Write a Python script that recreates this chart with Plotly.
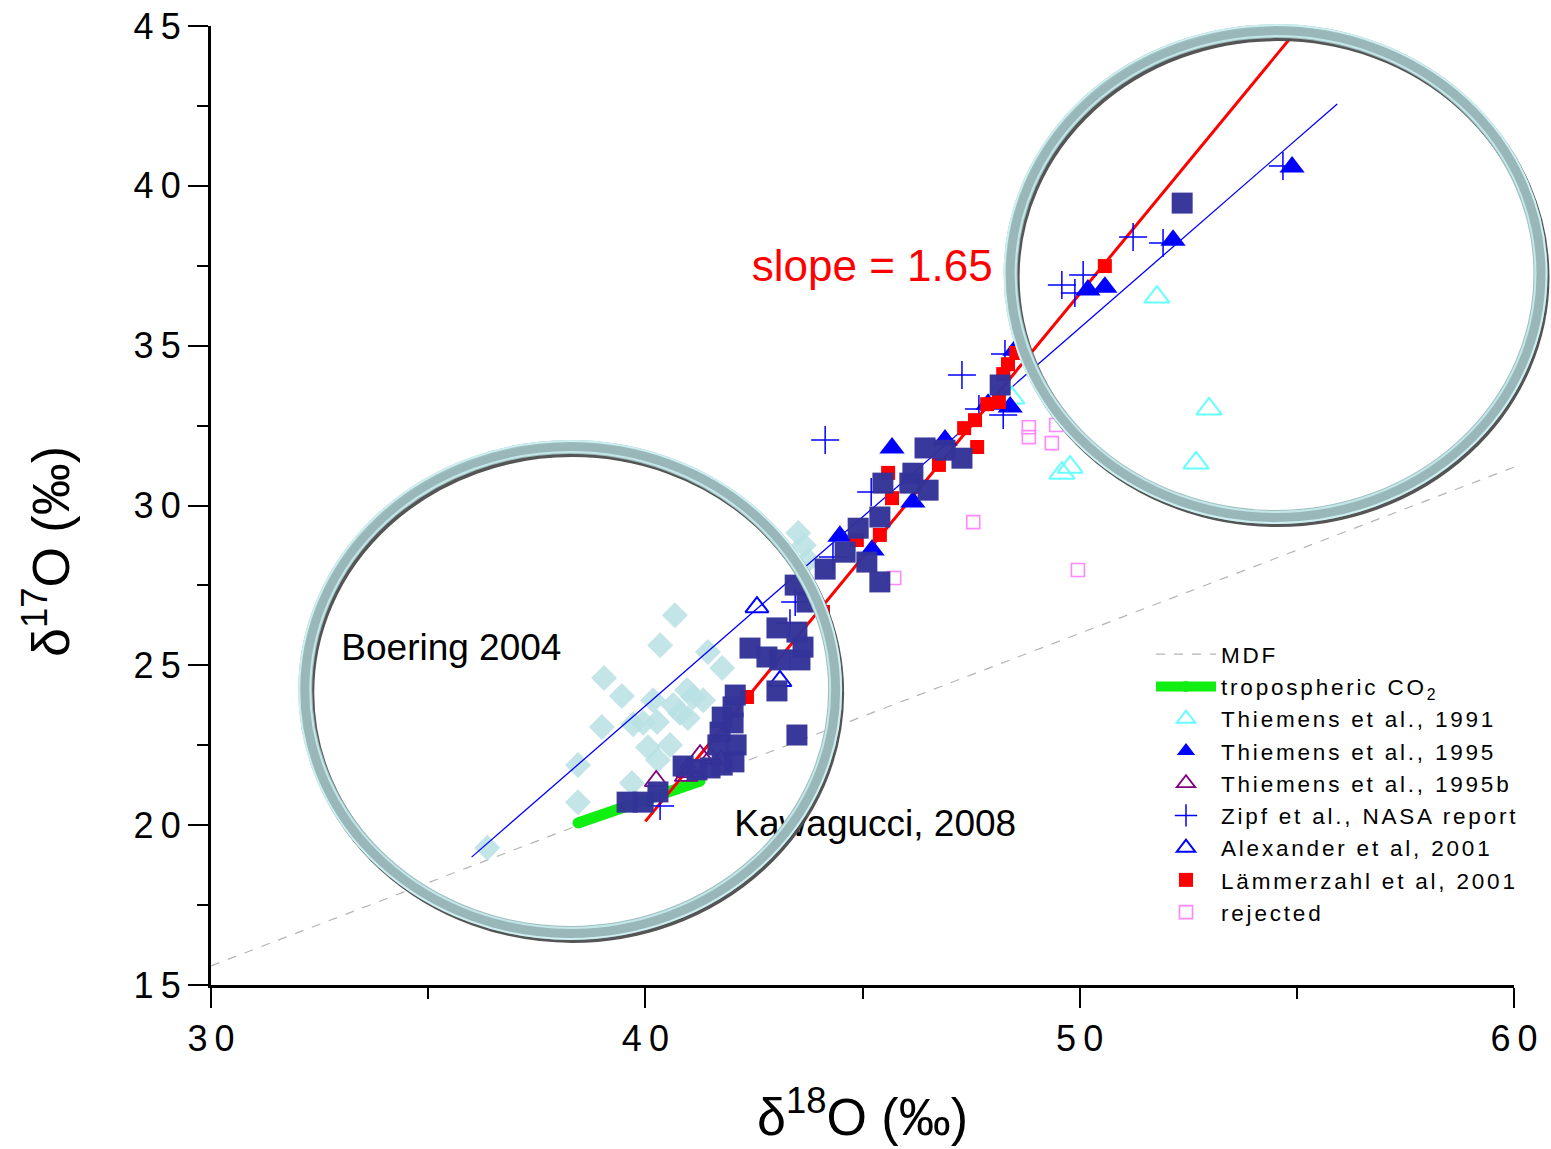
import plotly.graph_objects as go

# ---- axis ranges ----
X_RANGE = [30, 60]
Y_RANGE = [15, 45]
X_TICKS = [30, 40, 50, 60]
X_MINOR = [35, 45, 55]
Y_TICKS = [15, 20, 25, 30, 35, 40, 45]
Y_MINOR = [17.5, 22.5, 27.5, 32.5, 37.5, 42.5]

# ---- reference lines ----
MDF_SLOPE = 0.52
mdf_d18 = [30, 60]
FIT_SLOPE = 1.65
fit_d18 = [40.0, 55.1]
fit_intercept = -45.88
blue_fit_d18 = [36.0, 55.93]
blue_fit_d17 = [19.0, 42.56]
co2_d18 = [38.45, 41.26]
co2_d17 = [20.07, 21.38]

# ---- Boering 2004 ----
boering_d18 = [36.36, 38.45, 38.45, 39.00, 39.05, 39.46, 39.72, 39.95, 40.27, 40.18,
               40.34, 40.68, 40.96, 41.10, 41.33, 40.64, 40.80, 40.98, 41.44, 41.77,
               40.06, 40.57, 40.29, 39.69, 43.52, 43.65, 43.75]
boering_d17 = [19.29, 20.72, 21.88, 23.07, 24.60, 24.04, 23.16, 23.20, 23.23, 23.91,
               25.63, 26.57, 24.23, 24.01, 23.91, 23.76, 23.51, 23.35, 25.42, 24.92,
               22.44, 22.51, 22.04, 21.32, 29.14, 28.76, 28.29]

# ---- Kawagucci 2008 ----
kawagucci_d18 = [39.58, 39.95, 40.29, 40.87, 41.19, 41.49, 41.77, 42.04, 41.67, 42.09,
                 41.72, 42.02, 41.77, 42.02, 42.07, 43.03, 43.49, 42.41, 42.80, 43.10,
                 43.56, 43.03, 43.49, 43.63, 43.45, 44.14, 43.72, 44.60, 45.10, 45.40,
                 44.90, 45.40, 45.47, 46.09, 46.16, 46.51, 46.44, 46.90, 47.29, 48.17,
                 52.36]
kawagucci_d17 = [20.72, 20.72, 21.04, 21.85, 21.73, 21.79, 21.88, 21.98, 22.51, 22.51,
                 22.91, 23.20, 23.38, 23.70, 24.07, 24.20, 22.82, 25.54, 25.26, 25.17,
                 25.17, 26.17, 26.04, 25.57, 27.51, 28.01, 26.98, 28.54, 28.23, 27.61,
                 29.29, 29.64, 30.70, 30.70, 31.01, 30.48, 31.80, 31.73, 31.48, 33.77,
                 39.46]

# ---- Thiemens et al., 1991 ----
th1991_d18 = [51.78, 52.98, 52.68, 49.78, 49.59, 48.44]
th1991_d17 = [36.52, 33.02, 31.33, 31.20, 31.01, 33.36]

# ---- Thiemens et al., 1995 ----
th1995_d18 = [54.89, 52.15, 50.58, 50.19, 48.51, 48.40, 47.89, 46.90, 45.68, 46.16, 44.48, 45.22]
th1995_d17 = [40.59, 38.30, 36.83, 36.74, 34.86, 33.08, 33.17, 32.05, 31.80, 30.11, 29.04, 28.61]

# ---- Thiemens et al., 1995b ----
th1995b_d18 = [40.25, 41.26, 41.51, 41.74, 40.98, 40.98, 40.94]
th1995b_d17 = [21.38, 22.19, 22.10, 22.04, 21.79, 21.66, 21.54]

# ---- Zipf et al., NASA report ----
zipf_d18 = [54.68, 51.92, 51.23, 50.08, 49.59, 49.89, 48.28, 47.29, 44.14, 45.20,
            47.68, 48.24, 44.32, 43.45, 43.33, 40.34]
zipf_d17 = [40.62, 38.21, 38.40, 37.21, 36.90, 36.65, 34.74, 34.08, 32.05, 30.42,
            33.02, 32.83, 28.39, 26.98, 26.32, 20.60]

# ---- Alexander et al, 2001 ----
alex_d18 = [42.57, 43.10]
alex_d17 = [26.82, 24.51]

# ---- Lämmerzahl et al, 2001 ----
lamm_d18 = [50.58, 48.54, 48.35, 48.24, 48.14, 47.87, 47.59, 47.34, 47.64, 46.76,
            45.59, 45.68, 45.40, 44.87, 44.09, 42.34]
lamm_d17 = [37.49, 34.77, 34.42, 34.11, 33.24, 33.17, 32.67, 32.42, 31.83, 31.27,
            31.02, 30.23, 29.08, 28.92, 26.67, 24.01]

# ---- rejected ----
rej_d18 = [48.83, 48.83, 49.46, 49.36, 47.55, 45.73, 49.96]
rej_d17 = [32.45, 32.14, 32.52, 31.95, 29.48, 27.73, 27.98]

# ---- highlight rings (centre and radii in data units) ----
ring_centres = [(38.27, 24.23), (54.51, 37.24)]
RING_RX = 6.1
RING_RY = 7.6

FONT = "Liberation Sans"
THIN = "\u2009"

fig = go.Figure()

# mass-dependent fractionation reference
fig.add_trace(go.Scatter(
    x=mdf_d18, y=[MDF_SLOPE * v for v in mdf_d18], mode="lines", name="MDF",
    line=dict(color="#b4b4b4", width=1.2, dash="dash"), legendrank=1))

fig.add_trace(go.Scatter(
    x=boering_d18, y=boering_d17, mode="markers", showlegend=False,
    marker=dict(symbol="diamond", size=20, color="#b9e0e3", opacity=0.85,
                line=dict(width=0))))

fig.add_trace(go.Scatter(
    x=co2_d18, y=co2_d17, mode="lines+markers", name="tropospheric CO<sub>2</sub>",
    line=dict(color="#11ee11", width=11),
    marker=dict(size=11, color="#11ee11"), legendrank=2))

fig.add_trace(go.Scatter(
    x=blue_fit_d18, y=blue_fit_d17, mode="lines", showlegend=False,
    line=dict(color="#0000ff", width=1.3)))

fig.add_trace(go.Scatter(
    x=fit_d18, y=[FIT_SLOPE * v + fit_intercept for v in fit_d18], mode="lines",
    showlegend=False, line=dict(color="#ff0000", width=3)))

fig.add_trace(go.Scatter(
    x=th1991_d18, y=th1991_d17, mode="markers", name="Thiemens et al., 1991",
    marker=dict(symbol="triangle-up-open", size=22, color="#66ffff",
                line=dict(width=2, color="#66ffff")), legendrank=3))

fig.add_trace(go.Scatter(
    x=th1995_d18, y=th1995_d17, mode="markers", name="Thiemens et al., 1995",
    marker=dict(symbol="triangle-up", size=22, color="#0000ff",
                line=dict(width=0)), legendrank=4))

fig.add_trace(go.Scatter(
    x=th1995b_d18, y=th1995b_d17, mode="markers", name="Thiemens et al., 1995b",
    marker=dict(symbol="triangle-up-open", size=20, color="#800080",
                line=dict(width=1.8, color="#800080")), legendrank=5))

fig.add_trace(go.Scatter(
    x=zipf_d18, y=zipf_d17, mode="markers", name="Zipf et al., NASA report",
    marker=dict(symbol="cross-thin", size=20, color="#0000ff",
                line=dict(width=1.5, color="#0000ff")), legendrank=6))

fig.add_trace(go.Scatter(
    x=alex_d18, y=alex_d17, mode="markers", name="Alexander et al, 2001",
    marker=dict(symbol="triangle-up-open", size=20, color="#0000ff",
                line=dict(width=2, color="#0000ff")), legendrank=7))

fig.add_trace(go.Scatter(
    x=lamm_d18, y=lamm_d17, mode="markers", name="Lämmerzahl et al, 2001",
    marker=dict(symbol="square", size=14, color="#ff0000", line=dict(width=0)),
    legendrank=8))

fig.add_trace(go.Scatter(
    x=rej_d18, y=rej_d17, mode="markers", name="rejected",
    marker=dict(symbol="square-open", size=13, color="#ff88ff",
                line=dict(width=1.6, color="#ff88ff")), legendrank=9))

fig.add_trace(go.Scatter(
    x=kawagucci_d18, y=kawagucci_d17, mode="markers", showlegend=False,
    marker=dict(symbol="square", size=21, color="#333399", opacity=0.97,
                line=dict(width=0))))

# in-plot labels (drawn as traces so the rings sit on top of them)
label_font = dict(family=FONT, size=37, color="black")
fig.add_trace(go.Scatter(x=[33.0], y=[25.45], mode="text", text=["Boering 2004"],
                         textposition="middle right", textfont=label_font,
                         showlegend=False, hoverinfo="skip"))
fig.add_trace(go.Scatter(x=[42.05], y=[19.94], mode="text", text=["Kawagucci, 2008"],
                         textposition="middle right", textfont=label_font,
                         showlegend=False, hoverinfo="skip"))
fig.add_trace(go.Scatter(x=[42.45], y=[37.36], mode="text",
                         text=[f"slope = {FIT_SLOPE:.2f}"],
                         textposition="middle right",
                         textfont=dict(family=FONT, size=44, color="#ff0000"),
                         showlegend=False, hoverinfo="skip"))

# ---- rings, in paper coordinates so they may run past the plot edge ----
PLOT_W = 1551 - 211 - 37
PLOT_H = 1149 - 26 - 164


def px(v):
    return (v - X_RANGE[0]) / (X_RANGE[1] - X_RANGE[0])


def py(v):
    return (v - Y_RANGE[0]) / (Y_RANGE[1] - Y_RANGE[0])


shapes = []
for cx, cy in ring_centres:
    x0, x1 = px(cx - RING_RX), px(cx + RING_RX)
    y0, y1 = py(cy - RING_RY), py(cy + RING_RY)
    dx, dy = 1.0 / PLOT_W, 1.0 / PLOT_H
    # drop shadow
    shapes.append(dict(type="circle", xref="paper", yref="paper", layer="above",
                       x0=x0 + 2 * dx, x1=x1 + 2 * dx, y0=y0 - 3 * dy, y1=y1 - 3 * dy,
                       line=dict(color="#4c4c4c", width=14), opacity=0.95))
    # main band
    shapes.append(dict(type="circle", xref="paper", yref="paper", layer="above",
                       x0=x0, x1=x1, y0=y0, y1=y1,
                       line=dict(color="#9cbcbd", width=14), opacity=0.96))
    # outer and inner glints
    for off, col in ((6, "#cdeff1"), (-5, "#c3e6e8")):
        shapes.append(dict(type="circle", xref="paper", yref="paper", layer="above",
                           x0=x0 - off * dx, x1=x1 + off * dx,
                           y0=y0 - off * dy, y1=y1 + off * dy,
                           line=dict(color=col, width=2)))

tick_font = dict(family=FONT, size=36, color="black")
title_font = dict(family=FONT, size=52, color="black")

# axis titles as annotations for exact placement
annotations = [
    dict(text="δ<sup>18</sup>O (‰)", xref="paper", yref="paper",
         x=0.5, y=(985 - 1113) / PLOT_H, xanchor="center", yanchor="middle",
         showarrow=False, font=title_font),
    dict(text="δ<sup>17</sup>O (‰)", xref="paper", yref="paper",
         x=(47 - 211) / PLOT_W, y=(985 - 552) / PLOT_H, xanchor="center",
         yanchor="middle", textangle=-90, showarrow=False, font=title_font),
]

fig.update_layout(
    width=1551, height=1149,
    margin=dict(l=211, r=37, t=26, b=164),
    paper_bgcolor="white", plot_bgcolor="white",
    shapes=shapes,
    annotations=annotations,
    showlegend=True,
    legend=dict(x=(1151 - 211) / PLOT_W, y=(985 - 633) / PLOT_H,
                xanchor="left", yanchor="top",
                bgcolor="rgba(0,0,0,0)", font=dict(family=FONT, size=22.5, color="black"),
                tracegroupgap=0, itemwidth=60),
    xaxis=dict(range=X_RANGE, showgrid=False, zeroline=False, automargin=False,
               showline=True, linecolor="black", linewidth=3,
               ticks="outside", ticklen=20, tickwidth=2, tickcolor="black",
               tickvals=X_TICKS, ticktext=[THIN.join(str(v)) for v in X_TICKS],
               minor=dict(tickvals=X_MINOR, ticks="outside", ticklen=11,
                          tickwidth=2, tickcolor="black", showgrid=False),
               tickfont=tick_font),
    yaxis=dict(range=Y_RANGE, showgrid=False, zeroline=False, automargin=False,
               showline=True, linecolor="black", linewidth=3,
               ticks="outside", ticklen=20, tickwidth=2, tickcolor="black",
               tickvals=Y_TICKS, ticktext=[THIN.join(str(v)) for v in Y_TICKS],
               minor=dict(tickvals=Y_MINOR, ticks="outside", ticklen=11,
                          tickwidth=2, tickcolor="black", showgrid=False),
               tickfont=tick_font),
)

# widen the character spacing of the legend entries; the legend clip box is
# sized for unspaced text, so it is dropped as well
spacing_js = """
var gd = document.getElementById('{plot_id}');
function spaceLegend() {
  gd.querySelectorAll('.legendtext').forEach(function (t) {
    t.style.letterSpacing = '2.8px';
  });
  gd.querySelectorAll('.legend .scrollbox, .legend').forEach(function (g) {
    g.removeAttribute('clip-path');
    g.style.clipPath = 'none';
  });
}
spaceLegend();
gd.on('plotly_afterplot', spaceLegend);
"""

fig.write_html("out.html", post_script=spacing_js)
